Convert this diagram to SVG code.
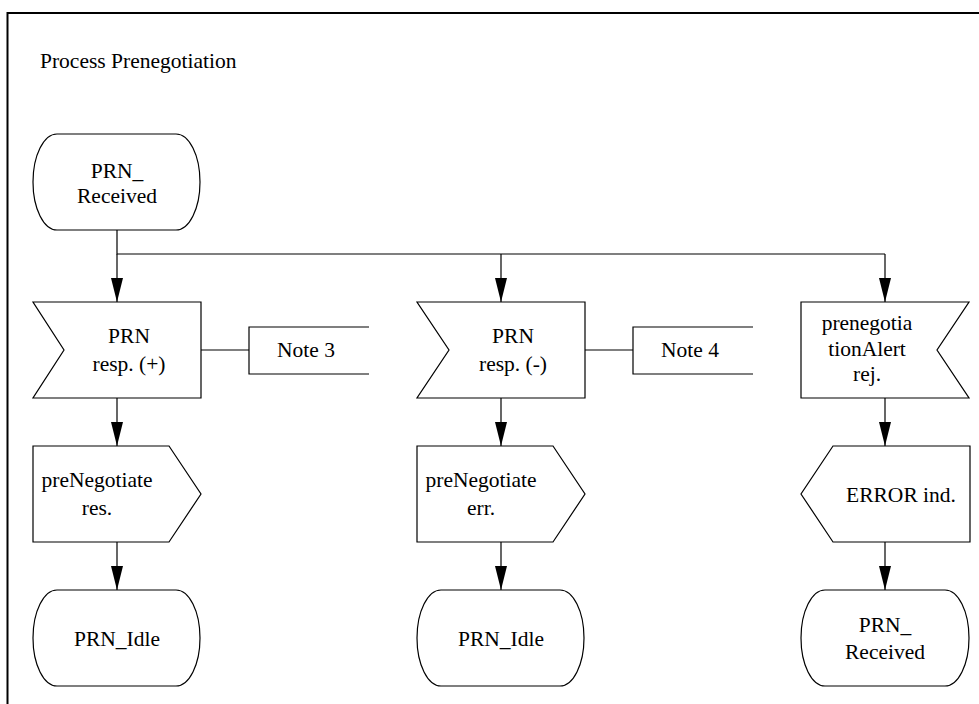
<svg xmlns="http://www.w3.org/2000/svg" width="979" height="704" viewBox="0 0 979 704">
<style>
.s{fill:#fff;stroke:#000;stroke-width:1.2}
.c{fill:none;stroke:#000;stroke-width:1.2}
text{font-family:"Liberation Serif","Times New Roman",serif;font-size:21.5px;fill:#000}
.m{text-anchor:middle}
</style>
<defs>
<marker id="ah" markerWidth="24" markerHeight="12" refX="24" refY="6" orient="auto" markerUnits="userSpaceOnUse" viewBox="0 0 24 12">
<path d="M0,0 L24,6 L0,12 Z" fill="#000"/>
</marker>
</defs>
<rect x="0" y="0" width="979" height="704" fill="#fff"/>
<rect x="7.5" y="13" width="990" height="720" fill="none" stroke="#000" stroke-width="2"/>
<text x="40" y="68">Process Prenegotiation</text>

<g id="connectors">
<path class="c" d="M117,230 V254 H885"/>
<path class="c" d="M117,254 V302" marker-end="url(#ah)"/>
<path class="c" d="M501,254 V302" marker-end="url(#ah)"/>
<path class="c" d="M885,254 V302" marker-end="url(#ah)"/>
<path class="c" d="M117,398 V446" marker-end="url(#ah)"/>
<path class="c" d="M501,398 V446" marker-end="url(#ah)"/>
<path class="c" d="M885,398 V446" marker-end="url(#ah)"/>
<path class="c" d="M117,542 V590" marker-end="url(#ah)"/>
<path class="c" d="M501,542 V590" marker-end="url(#ah)"/>
<path class="c" d="M885,542 V590" marker-end="url(#ah)"/>
<path class="c" d="M201,350 H249"/>
<path class="c" d="M585,350 H633"/>
</g>

<g id="start">
<path class="s" d="M57,134 H176 A24,48 0 0 1 176,230 H57 A24,48 0 0 1 57,134 Z"/>
<text class="m" x="117" y="178">PRN_</text>
<text class="m" x="117" y="203">Received</text>
</g>

<g id="in1">
<polygon class="s" points="33,302 201,302 201,398 33,398 64,350"/>
<text class="m" x="129" y="343">PRN</text>
<text class="m" x="129" y="371">resp. (+)</text>
</g>
<g id="note3">
<path class="c" d="M369,327 H249 V374 H369"/>
<text x="277" y="357">Note 3</text>
</g>
<g id="out1">
<polygon class="s" points="33,446 169,446 201,494 169,542 33,542"/>
<text class="m" x="97" y="487">preNegotiate</text>
<text class="m" x="97" y="515">res.</text>
</g>
<g id="end1">
<path class="s" d="M57,590 H176 A24,48 0 0 1 176,686 H57 A24,48 0 0 1 57,590 Z"/>
<text class="m" x="117" y="646">PRN_Idle</text>
</g>

<g id="in2">
<polygon class="s" points="417,302 585,302 585,398 417,398 449,350"/>
<text class="m" x="513" y="343">PRN</text>
<text class="m" x="513" y="371">resp. (-)</text>
</g>
<g id="note4">
<path class="c" d="M753,327 H633 V374 H753"/>
<text x="661" y="357">Note 4</text>
</g>
<g id="out2">
<polygon class="s" points="417,446 553,446 585,494 553,542 417,542"/>
<text class="m" x="481" y="487">preNegotiate</text>
<text class="m" x="481" y="515">err.</text>
</g>
<g id="end2">
<path class="s" d="M441,590 H560 A24,48 0 0 1 560,686 H441 A24,48 0 0 1 441,590 Z"/>
<text class="m" x="501" y="646">PRN_Idle</text>
</g>

<g id="in3">
<polygon class="s" points="801,302 969,302 937,350 969,398 801,398"/>
<text class="m" x="867" y="330">prenegotia</text>
<text class="m" x="867" y="356">tionAlert</text>
<text class="m" x="867" y="381">rej.</text>
</g>
<g id="out3">
<polygon class="s" points="833,446 970,446 970,542 833,542 801,494"/>
<text class="m" x="901" y="502">ERROR ind.</text>
</g>
<g id="end3">
<path class="s" d="M825,590 H945 A24,48 0 0 1 945,686 H825 A24,48 0 0 1 825,590 Z"/>
<text class="m" x="885" y="632">PRN_</text>
<text class="m" x="885" y="659">Received</text>
</g>
</svg>
